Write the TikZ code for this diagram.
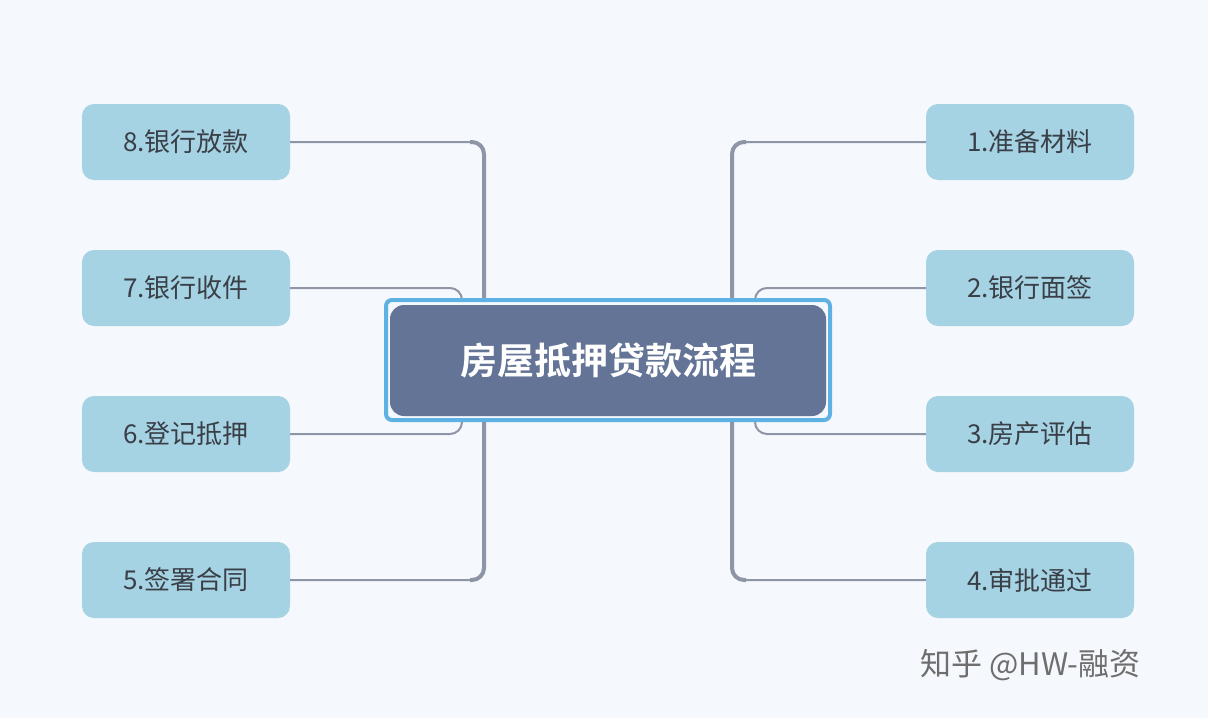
\documentclass[tikz,border=0pt]{standalone}
\usepackage{fontspec}
\setmainfont{Noto Sans CJK SC}
\newfontfamily\cjkb{Noto Sans CJK SC Bold}
\definecolor{bg}{HTML}{F5F8FC}
\definecolor{leaf}{HTML}{A5D3E3}
\definecolor{txt}{HTML}{3A3F47}
\definecolor{ctr}{HTML}{637496}
\definecolor{cbd}{HTML}{5DB2E3}
\definecolor{ln}{HTML}{8E95A6}
\definecolor{wm}{HTML}{6E6E6E}
\begin{document}
\begin{tikzpicture}[x=1pt,y=-1pt,
  leafn/.style={fill=leaf,rounded corners=12pt,minimum width=208pt,minimum height=76pt,inner sep=0pt,text=txt,font=\fontsize{26}{30}\selectfont},
  trunk/.style={draw=ln,line width=4pt,rounded corners=12pt},
  br/.style={draw=ln,line width=2pt,rounded corners=12pt}]
\useasboundingbox[fill=bg] (0,0) rectangle (1208,718);
\node[leafn] (n8) at (186,142) {8.银行放款};
\node[leafn] (n7) at (186,288) {7.银行收件};
\node[leafn] (n6) at (186,434) {6.登记抵押};
\node[leafn] (n5) at (186,580) {5.签署合同};
\node[leafn] (n1) at (1030,142) {1.准备材料};
\node[leafn] (n2) at (1030,288) {2.银行面签};
\node[leafn] (n3) at (1030,434) {3.房产评估};
\node[leafn] (n4) at (1030,580) {4.审批通过};
\coordinate (cl) at (484,360);
\coordinate (cr) at (732,360);
% connectors
\draw[br] (n8.east) -- (484,142) -- (cl);
\draw[br] (n5.east) -- (484,580) -- (cl);
\draw[trunk] (470,142) -| (cl) |- (470,580);
\draw[br] (n7.east) -| (462,360);
\draw[br] (n6.east) -| (462,360);
\draw[br] (n1.west) -- (732,142) -- (cr);
\draw[br] (n4.west) -- (732,580) -- (cr);
\draw[trunk] (746,142) -| (cr) |- (746,580);
\draw[br] (n2.west) -| (755,360);
\draw[br] (n3.west) -| (755,360);
% center
\draw[cbd,line width=4pt,fill=bg,rounded corners=6pt] (386,300) rectangle (830,420);
\node[fill=ctr,rounded corners=14pt,minimum width=436pt,minimum height=111pt,text=white,font=\cjkb\fontsize{37}{42}\selectfont] (c) at (608,360.5) {房屋抵押贷款流程};
\node[text=wm,font=\fontsize{31}{36}\selectfont,anchor=west,inner sep=0pt] (wmk) at (920,665) {知乎 @HW-融资};
\end{tikzpicture}
\end{document}
